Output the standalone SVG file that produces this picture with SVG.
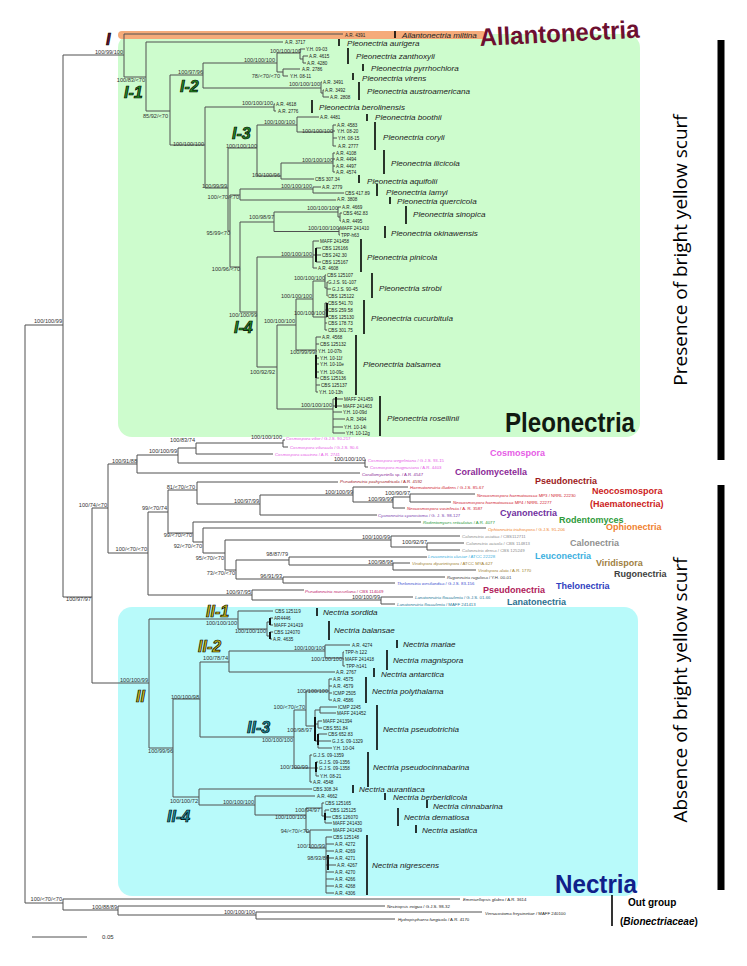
<svg xmlns="http://www.w3.org/2000/svg" width="747" height="966" viewBox="0 0 747 966">
<defs>
<style>
.t{stroke:#505050;stroke-width:1;fill:none}
.tk{stroke:#111;stroke-width:2;fill:none}
.bs{font-family:"Liberation Sans",Arial,sans-serif;font-size:5.6px;fill:#333;text-anchor:end}
.tx{font-family:"Liberation Sans",Arial,sans-serif;font-size:4.6px;fill:#222}
.sp{font-family:"Liberation Sans",Arial,sans-serif;font-size:8.1px;font-style:italic;fill:#222}
.bar{stroke:#000;stroke-width:1.6}
.ct{font-family:"Liberation Sans",Arial,sans-serif;font-size:4.3px}
.gl{font-family:"Liberation Sans",Arial,sans-serif;font-size:9px;font-weight:bold}
.cl{font-family:"Liberation Sans",Arial,sans-serif;font-size:16px;font-weight:bold;font-style:italic;stroke:#000;stroke-width:0.7}
.big{font-family:"Liberation Sans",Arial,sans-serif;font-weight:bold}
.vt{font-family:"Open Sans","Liberation Sans",sans-serif;font-size:19px;fill:#000;text-anchor:middle}
</style>
</defs>
<rect width="747" height="966" fill="#fff"/>
<g id="box-pleonectria"><rect x="118" y="34" width="522" height="403" rx="14" fill="#cdfccd"/></g>
<g id="box-nectria"><rect x="118" y="607" width="520" height="289" rx="14" fill="#b8fafa"/></g>
<g id="band-allantonectria"><rect x="118" y="31" width="368" height="8" rx="4" fill="#f5ab7a"/></g>

<g id="connectors">
<path class="t" d="M25 325V903M25 325H63M63 55V597M63 55H124M124 34V77M124 34H343M124 77H146M146 42V111M146 42H283M146 111H170M170 75V145M170 75H203M203 63V88M203 63H277M277 53V72M277 53H300M300 49V59M300 49H305M300 59H303M303 56V63M303 56H308M303 63H306M277 72H283M283 69V76M283 69H300M283 76H288M203 88H321M321 82V93M321 82H322M321 93H323M323 90V97M323 90H324M323 97H329"/>
<path class="t" d="M170 145H205M205 107V188M205 107H274M274 104V111M274 104H275M274 111H276M205 188H228M228 148V231M228 148H257M257 125V176M257 125H297M297 117V132M297 117H319M297 132H333M333 125V146M333 125H336M333 131H335M333 138H337M333 146H336M257 176H281M281 163V179M281 163H333M333 153V172M333 153H335M333 159H335M333 166H335M333 172H335M281 179H314"/>
<path class="t" d="M228 231H230M230 195V267M230 195H240M240 189V200M240 189H313M313 187V193M313 187H321M313 193H344M240 200H336M230 267H240M240 222V312M240 222H274M274 212V231.5M274 212H338M338 207V217M338 207H341M338 217H340M340 213V221M340 213H342M340 221H341M274 231.5H339M339 228V235M339 228H340M339 235H340"/>
<path class="t" d="M240 312H257M257 257V367M257 257H313M313 241V268M313 241H319M313 255H316M316 248V262M316 248H321M316 255H321M316 262H321M313 268H317M257 367H277M277 325V409M277 325H296M296 299V350M296 299H313M313 281V317M313 281H325M325 275V288M325 275H326M325 288H327M327 282V296M327 282H328M327 289H331M327 296H327.5M313 317H325M325 303V330M325 303H327M325 310H327M325 317H327M325 323H327M325 330H327"/>
<path class="t" d="M296 350H316M316 337V392M316 337H321M316 344H319M316 351H317M316 358H319M316 364H319M316 372H319M316 378H319M316 385H320M316 392H318M277 409H333M333 399V433M333 399H343M333 406H342M333 412H342M333 419H345M333 427H343M333 433H345"/>
<path class="tk" d="M336 397V408M316 248V262M327 303V317M316 355V378"/>
<path class="t" d="M63 597H92M92 508V683M92 508H108M108 464V553M108 464H137M137 455V473M137 455H178M178 448V463M178 448H196M196 443V454M196 443H283M283 440V447M283 440H285M283 447H288M196 454H273M178 463H365M365 460V467M365 460H366M365 467H368M137 473H360"/>
<path class="t" d="M108 553H148M148 512V595M148 512H168M168 490V533M168 490H197M197 482V504M197 482H338M197 504H260M260 495V515M260 495H353M353 487V502M353 487H408M353 502H393M393 497V508M393 497H410M410 494V502M410 494H475M410 502H451M393 508H405M260 515H377"/>
<path class="t" d="M168 533H193M193 522V542M193 522H421M193 542H203M203 528V553M203 528H486M203 553H225M225 540V570M225 540H391M391 536V547M391 536H460M391 547H427M427 543V550M427 543H464M427 550H460M225 570H236M236 560V579M236 560H289M289 557V565M289 557H427M289 565H393M393 563V570M393 563H410M393 570H476M236 579H283M283 577V583M283 577H445M283 583H395"/>
<path class="t" d="M148 595H252M252 590V600M252 590H304M252 600H381M381 597V604M381 597H413M381 604H395"/>
<path class="t" d="M92 683H149M149 619V748M149 619H238M238 611V629M238 611H273M238 629H267M267 622V636M267 622H270M270 618V625M270 618H273M270 625H273M267 636H270M270 632V639M270 632H273M270 639H272"/>
<path class="tk" d="M270 618V625M270 632V639"/>
<path class="t" d="M149 748H173M173 699V797M173 699H200M200 662V737M200 662H229M229 651V672M229 651H325M325 645V658M325 645H350M325 658H343M343 652V666M343 652H344M343 659H344M343 666H345M229 672H335"/>
<path class="t" d="M200 737H294M294 710V768M294 710H306M306 691V726M306 691H329M329 679V700M329 679H332M329 686H332M329 693H332M329 700H332M306 726H315M315 710V741M315 710H320M320 707V713M320 707H337M320 713H336M315 724H318M318 721V728M318 721H322M318 728H322M315 741H318M318 734V748M318 734H327M318 741H331M318 748H332"/>
<path class="tk" d="M315 717V741M318 734V745"/>
<path class="t" d="M294 768H310M310 755V782M310 755H312M310 768H316M316 762V776M316 762H318M316 768H318M316 776H319M310 782H312"/>
<path class="tk" d="M316 762V772"/>
<path class="t" d="M173 797H199M199 789V805M199 789H312M199 805H255M255 796V815M255 796H315M255 815H306M306 808V832M306 808H322M322 803V816M322 803H324M322 816H325M325 810V823M325 810H329M325 817H331M325 823H332M306 832H310M310 830V848M310 830H332M310 848H326M326 837V893M326 837H332M326 844H334M326 851H334M326 858H334M326 865H336M326 872H334M326 879H334M326 886H334M326 893H334"/>
<path class="tk" d="M325 813V820M328 855V870"/>
<path class="t" d="M25 903H63M63 899V910M63 899H460M63 910H118M118 906V915M118 906H385M118 915H256M256 912V919M256 912H482M256 919H395"/>
</g>

<g id="support-values">
<text class="bs" x="123" y="54">100/99/100</text>
<text class="bs" x="145" y="82">100/83/&lt;70</text>
<text class="bs" x="168" y="118">85/92/&lt;70</text>
<text class="bs" x="203" y="74">100/97/96</text>
<text class="bs" x="301" y="53">100/100/100</text>
<text class="bs" x="275" y="62">100/100/100</text>
<text class="bs" x="280" y="78">78/&lt;70/&lt;70</text>
<text class="bs" x="320" y="86">100/100/100</text>
<text class="bs" x="204" y="146">100/100/100</text>
<text class="bs" x="273" y="105">100/100/100</text>
<text class="bs" x="295" y="124">100/100/100</text>
<text class="bs" x="333" y="133">100/100/100</text>
<text class="bs" x="257" y="148">100/100/100</text>
<text class="bs" x="333" y="162">100/100/100</text>
<text class="bs" x="280" y="177">100/100/96</text>
<text class="bs" x="312" y="188">100/100/100</text>
<text class="bs" x="227" y="188">100/99/99</text>
<text class="bs" x="239" y="199">100/&lt;70/&lt;70</text>
<text class="bs" x="338" y="210">100/100/100</text>
<text class="bs" x="274" y="219">100/98/97</text>
<text class="bs" x="339" y="230">100/100/100</text>
<text class="bs" x="230" y="235">95/99&lt;70</text>
<text class="bs" x="312" y="256">100/100/100</text>
<text class="bs" x="240" y="271">100/96/&lt;70</text>
<text class="bs" x="325" y="280">100/100/100</text>
<text class="bs" x="312" y="298">100/100/100</text>
<text class="bs" x="257" y="317">100/100/99</text>
<text class="bs" x="325" y="315">100/100/100</text>
<text class="bs" x="295" y="323">100/100/100</text>
<text class="bs" x="315" y="354">100/99/99</text>
<text class="bs" x="275" y="374">100/92/92</text>
<text class="bs" x="332" y="407">100/100/100</text>
<text class="bs" x="62" y="323">100/100/99</text>
<text class="bs" x="91" y="601">100/97/97</text>
<text class="bs" x="107" y="507">100/74/&lt;70</text>
<text class="bs" x="137" y="463">100/91/88</text>
<text class="bs" x="177" y="453">100/100/99</text>
<text class="bs" x="195" y="442">100/83/74</text>
<text class="bs" x="282" y="439">100/100/100</text>
<text class="bs" x="365" y="461">100/100/100</text>
<text class="bs" x="195" y="489">81/&lt;70/&lt;70</text>
<text class="bs" x="167" y="510">99/&lt;70/74</text>
<text class="bs" x="259" y="503">100/97/99</text>
<text class="bs" x="353" y="494">100/100/99</text>
<text class="bs" x="410" y="495">100/90/97</text>
<text class="bs" x="393" y="501">100/99/99</text>
<text class="bs" x="192" y="537">99/&lt;70/&lt;70</text>
<text class="bs" x="202" y="548">92/&lt;70/&lt;70</text>
<text class="bs" x="147" y="551">100/&lt;70/&lt;70</text>
<text class="bs" x="390" y="539">100/100/99</text>
<text class="bs" x="427" y="544">100/92/97</text>
<text class="bs" x="224" y="560">95/&lt;70/&lt;70</text>
<text class="bs" x="288" y="556">98/87/79</text>
<text class="bs" x="393" y="564">100/98/98</text>
<text class="bs" x="235" y="575">73/&lt;70/&lt;70</text>
<text class="bs" x="282" y="578">96/91/93</text>
<text class="bs" x="251" y="594">100/97/95</text>
<text class="bs" x="380" y="599">100/100/99</text>
<text class="bs" x="148" y="682">100/100/99</text>
<text class="bs" x="237" y="625">100/100/100</text>
<text class="bs" x="266" y="633">100/100/100</text>
<text class="bs" x="173" y="753">100/99/96</text>
<text class="bs" x="199" y="699">100/100/98</text>
<text class="bs" x="228" y="660">100/78/74</text>
<text class="bs" x="325" y="650">100/100/100</text>
<text class="bs" x="342" y="661">100/100/100</text>
<text class="bs" x="293" y="742">100/100/100</text>
<text class="bs" x="305" y="709">100/&lt;70/&lt;70</text>
<text class="bs" x="328" y="693">100/100/100</text>
<text class="bs" x="312" y="732">100/98/97</text>
<text class="bs" x="308" y="769">100/100/99</text>
<text class="bs" x="198" y="803">100/100/72</text>
<text class="bs" x="254" y="804">100/100/100</text>
<text class="bs" x="306" y="819">100/100/100</text>
<text class="bs" x="320" y="812">100/94/97</text>
<text class="bs" x="309" y="833">94/&lt;70/&lt;70</text>
<text class="bs" x="325" y="848">100/100/99</text>
<text class="bs" x="329" y="860">98/93/89</text>
<text class="bs" x="62" y="901">100/&lt;70/&lt;70</text>
<text class="bs" x="117" y="909">100/88/89</text>
<text class="bs" x="255" y="914">100/100/100</text>
</g>

<g id="clade-labels">
<text class="cl" x="106" y="45" fill="#6b0f2b">I</text>
<text class="cl" x="124" y="98" fill="#238b23">I-1</text>
<text class="cl" x="180" y="92" fill="#238b23">I-2</text>
<text class="cl" x="232" y="139" fill="#238b23">I-3</text>
<text class="cl" x="234" y="333" fill="#238b23">I-4</text>
<text class="cl" x="136" y="702" fill="#c8b818">II</text>
<text class="cl" x="206" y="617" fill="#c8b818">II-1</text>
<text class="cl" x="198" y="652" fill="#c8b818">II-2</text>
<text class="cl" x="247" y="733" fill="#1b8fa0">II-3</text>
<text class="cl" x="167" y="822" fill="#1b8fa0">II-4</text>
</g>

<g id="allantonectria-miltina">
<text class="tx" x="345" y="36.6">A.R. 4391</text>
<line class="bar" x1="395" y1="31" x2="395" y2="38"/>
<text class="sp" x="402" y="38">Allantonectria miltina</text>
</g>
<g id="pleonectria-aurigera"><text class="tx" x="285" y="43.6">A.R. 3717</text><line class="bar" x1="339" y1="39" x2="339" y2="46"/><text class="sp" x="347" y="46">Pleonectria aurigera</text></g>
<g id="pleonectria-zanthoxyli"><text class="tx" x="306" y="50.6">Y.H. 09-03</text><text class="tx" x="309" y="57.6">A.R. 4615</text><text class="tx" x="307" y="64.6">A.R. 4280</text><line class="bar" x1="348" y1="48" x2="348" y2="64"/><text class="sp" x="356" y="59">Pleonectria zanthoxyli</text></g>
<g id="pleonectria-pyrrhochlora"><text class="tx" x="302" y="71">A.R. 2786</text><line class="bar" x1="363" y1="64" x2="363" y2="71"/><text class="sp" x="371" y="71">Pleonectria pyrrhochlora</text></g>
<g id="pleonectria-virens"><text class="tx" x="290" y="77.6">Y.H. 08-11</text><line class="bar" x1="353" y1="73" x2="353" y2="80"/><text class="sp" x="362" y="81">Pleonectria virens</text></g>
<g id="pleonectria-austroamericana"><text class="tx" x="323" y="83.6">A.R. 3491</text><text class="tx" x="325" y="91.6">A.R. 3492</text><text class="tx" x="330" y="98.6">A.R. 2808</text><line class="bar" x1="359" y1="82" x2="359" y2="100"/><text class="sp" x="367" y="94">Pleonectria austroamericana</text></g>
<g id="pleonectria-berolinensis"><text class="tx" x="276" y="105.6">A.R. 4618</text><text class="tx" x="278" y="112.6">A.R. 2776</text><line class="bar" x1="312" y1="100" x2="312" y2="113"/><text class="sp" x="319" y="110">Pleonectria berolinensis</text></g>
<g id="pleonectria-boothii"><text class="tx" x="320" y="118.6">A.R. 4481</text><line class="bar" x1="367" y1="114" x2="367" y2="121"/><text class="sp" x="375" y="120">Pleonectria boothii</text></g>
<g id="pleonectria-coryli"><text class="tx" x="337" y="126.6">A.R. 4583</text><text class="tx" x="337" y="132.6">Y.H. 08-20</text><text class="tx" x="338" y="139.6">Y.H. 08-15</text><text class="tx" x="338" y="147.6">A.R. 2777</text><line class="bar" x1="375" y1="122" x2="375" y2="150"/><text class="sp" x="383" y="140">Pleonectria coryli</text></g>
<g id="pleonectria-ilicicola"><text class="tx" x="336" y="154.6">A.R. 4108</text><text class="tx" x="336" y="160.6">A.R. 4494</text><text class="tx" x="336" y="167.6">A.R. 4497</text><text class="tx" x="336" y="173.6">A.R. 4574</text><line class="bar" x1="384" y1="150" x2="384" y2="174"/><text class="sp" x="391" y="166">Pleonectria ilicicola</text></g>
<g id="pleonectria-aquifolii"><text class="tx" x="315" y="180.6">CBS 307.34</text><line class="bar" x1="359" y1="175" x2="359" y2="183"/><text class="sp" x="367" y="184">Pleonectria aquifolii</text></g>
<g id="pleonectria-lamyi"><text class="tx" x="322" y="188.6">A.R. 2779</text><text class="tx" x="345" y="194.6">CBS 417.89</text><line class="bar" x1="377" y1="184" x2="377" y2="196"/><text class="sp" x="386" y="195">Pleonectria lamyi</text></g>
<g id="pleonectria-quercicola"><text class="tx" x="337" y="200.6">A.R. 3808</text><line class="bar" x1="390" y1="197" x2="390" y2="204"/><text class="sp" x="397" y="204">Pleonectria quercicola</text></g>
<g id="pleonectria-sinopica"><text class="tx" x="342" y="208.6">A.R. 4669</text><text class="tx" x="343" y="214.6">CBS 462.83</text><text class="tx" x="342" y="222.6">A.R. 4495</text><line class="bar" x1="406" y1="206" x2="406" y2="224"/><text class="sp" x="413" y="217">Pleonectria sinopica</text></g>
<g id="pleonectria-okinawensis"><text class="tx" x="340" y="229.6">MAFF 241410</text><text class="tx" x="341" y="236.6">TPP-h63</text><line class="bar" x1="385" y1="226" x2="385" y2="238"/><text class="sp" x="391" y="236">Pleonectria okinawensis</text></g>
<g id="pleonectria-pinicola"><text class="tx" x="320" y="242.6">MAFF 241458</text><text class="tx" x="322" y="249.6">CBS 126166</text><text class="tx" x="322" y="256.6">CBS 242.30</text><text class="tx" x="322" y="263.6">CBS 125167</text><text class="tx" x="318" y="269.6">A.R. 4608</text><line class="bar" x1="361" y1="239" x2="361" y2="272"/><text class="sp" x="367" y="260">Pleonectria pinicola</text></g>
<g id="pleonectria-strobi"><text class="tx" x="327" y="276.6">CBS 125107</text><text class="tx" x="328" y="283.6">G.J.S. 91-107</text><text class="tx" x="332" y="290.6">G.J.S. 90-45</text><text class="tx" x="328" y="297.6">CBS 125122</text><line class="bar" x1="372" y1="273" x2="372" y2="298"/><text class="sp" x="379" y="291">Pleonectria strobi</text></g>
<g id="pleonectria-cucurbitula"><text class="tx" x="328" y="304.6">CBS 541.70</text><text class="tx" x="328" y="311.6">CBS 259.58</text><text class="tx" x="328" y="318.6">CBS 125130</text><text class="tx" x="328" y="324.6">CBS 178.73</text><text class="tx" x="328" y="331.6">CBS 301.75</text><line class="bar" x1="364" y1="300" x2="364" y2="334"/><text class="sp" x="371" y="321">Pleonectria cucurbitula</text></g>
<g id="pleonectria-balsamea"><text class="tx" x="322" y="338.6">A.R. 4568</text><text class="tx" x="320" y="345.6">CBS 125132</text><text class="tx" x="318" y="352.6">Y.H. 10-07b</text><text class="tx" x="320" y="359.6">Y.H. 10-11f</text><text class="tx" x="320" y="365.6">Y.H. 10-10e</text><text class="tx" x="320" y="373.6">Y.H. 10-09c</text><text class="tx" x="320" y="379.6">CBS 125136</text><text class="tx" x="321" y="386.6">CBS 125137</text><text class="tx" x="319" y="393.6">Y.H. 10-13h</text><line class="bar" x1="356" y1="335" x2="356" y2="395"/><text class="sp" x="363" y="367">Pleonectria balsamea</text></g>
<g id="pleonectria-rosellinii"><text class="tx" x="344" y="400.6">MAFF 241459</text><text class="tx" x="343" y="407.6">MAFF 241403</text><text class="tx" x="343" y="413.6">Y.H. 10-09d</text><text class="tx" x="346" y="420.6">A.R. 3494</text><text class="tx" x="344" y="428.6">Y.H. 10-14i</text><text class="tx" x="346" y="434.6">Y.H. 10-12g</text><line class="bar" x1="380" y1="396" x2="380" y2="436"/><text class="sp" x="387" y="421">Pleonectria rosellinii</text></g>

<g id="other-genera">
<text class="ct" x="286" y="439.5" fill="#e65ce6"><tspan font-style="italic">Cosmospora vilior</tspan> / G.J.S. 90-217</text>
<text class="ct" x="290" y="448.5" fill="#e65ce6"><tspan font-style="italic">Cosmospora viliuscula</tspan> / G.J.S. 90-6</text>
<text class="ct" x="275" y="455.5" fill="#e65ce6"><tspan font-style="italic">Cosmospora coccinea</tspan> / A.R. 2741</text>
<text class="ct" x="368" y="461.5" fill="#e65ce6"><tspan font-style="italic">Cosmospora wegeliniana</tspan> / G.J.S. 93-15</text>
<text class="ct" x="370" y="468.5" fill="#e65ce6"><tspan font-style="italic">Cosmospora magnusiana</tspan> / A.R. 4403</text>
<text class="ct" x="362" y="475.5" fill="#8b2a98"><tspan font-style="italic">Corallomycetella</tspan> sp. / A.R. 4547</text>
<text class="ct" x="340" y="482.5" fill="#a0202a"><tspan font-style="italic">Pseudonectria pachysandricola</tspan> / A.R. 4592</text>
<text class="ct" x="410" y="488.5" fill="#d02030"><tspan font-style="italic">Haematonectria illudens</tspan> / G.J.S. 85-67</text>
<text class="ct" x="477" y="496.5" fill="#d02030"><tspan font-style="italic">Neocosmospora haematococca</tspan> MP3 / NRRL 22230</text>
<text class="ct" x="453" y="503.5" fill="#d02030"><tspan font-style="italic">Neocosmospora haematococca</tspan> MP4 / NRRL 22277</text>
<text class="ct" x="407" y="509.5" fill="#d02030"><tspan font-style="italic">Neocosmospora vasinfecta</tspan> / A. R. 3587</text>
<text class="ct" x="378" y="516.5" fill="#7b3fb0"><tspan font-style="italic">Cyanonectria cyanostoma</tspan> / G. J. S. 98-127</text>
<text class="ct" x="423" y="523.5" fill="#2a9a3a"><tspan font-style="italic">Rodentomyces reticulatus</tspan> / A.R. 4077</text>
<text class="ct" x="488" y="530.5" fill="#f07f2a"><tspan font-style="italic">Ophionectria trichospora</tspan> / G.J.S. 91-206</text>
<text class="ct" x="462" y="537.5" fill="#8c8c8c"><tspan font-style="italic">Calonectria asiatica</tspan> / CBS112711</text>
<text class="ct" x="466" y="544.5" fill="#8c8c8c"><tspan font-style="italic">Calonectria acicola</tspan> / CBS 114813</text>
<text class="ct" x="462" y="551.5" fill="#8c8c8c"><tspan font-style="italic">Calonectria densa</tspan> / CBS 125249</text>
<text class="ct" x="428" y="557.5" fill="#3cb0e0"><tspan font-style="italic">Leuconectria clusiae</tspan> / ATCC 22228</text>
<text class="ct" x="412" y="564.5" fill="#a08030"><tspan font-style="italic">Viridispora diparietispora</tspan> / ATCC MYA-627</text>
<text class="ct" x="478" y="571.5" fill="#a08030"><tspan font-style="italic">Viridispora alata</tspan> / A.R. 1770</text>
<text class="ct" x="447" y="578.5" fill="#404040"><tspan font-style="italic">Rugonectria rugulosa</tspan> / Y.H. 00-01</text>
<text class="ct" x="397" y="584.5" fill="#3d4fd0"><tspan font-style="italic">Thelonectria westlandica</tspan> / G.J.S. 83-156</text>
<text class="ct" x="305" y="592.5" fill="#c0206a"><tspan font-style="italic">Pseudonectria rousseliana</tspan> / CBS 114049</text>
<text class="ct" x="415" y="598.5" fill="#2a7a9a"><tspan font-style="italic">Lanatonectria flocculenta</tspan> / G.J.S. 01-66</text>
<text class="ct" x="397" y="605.5" fill="#2a7a9a"><tspan font-style="italic">Lanatonectria flocculenta</tspan> / MAFF 241413</text>
</g>

<g id="genus-labels">
<text class="gl" x="490" y="456" fill="#e65ce6">Cosmospora</text>
<text class="gl" x="455" y="475" fill="#8b2a98">Corallomycetella</text>
<text class="gl" x="535" y="484" fill="#9c1a1a">Pseudonectria</text>
<text class="gl" x="592" y="494" fill="#cc2222">Neocosmospora</text>
<text class="gl" x="590" y="507" fill="#cc2222">(Haematonectria)</text>
<text class="gl" x="500" y="516" fill="#7030a0">Cyanonectria</text>
<text class="gl" x="559" y="523" fill="#2e9a3a">Rodentomyces</text>
<text class="gl" x="606" y="530" fill="#f08030">Ophionectria</text>
<text class="gl" x="570" y="546" fill="#909090">Calonectria</text>
<text class="gl" x="535" y="559" fill="#3cb0e0">Leuconectria</text>
<text class="gl" x="596" y="566" fill="#a08040">Viridispora</text>
<text class="gl" x="614" y="577" fill="#404040">Rugonectria</text>
<text class="gl" x="556" y="589" fill="#3040c0">Thelonectria</text>
<text class="gl" x="483" y="593" fill="#b0205a">Pseudonectria</text>
<text class="gl" x="507" y="605" fill="#2a7090">Lanatonectria</text>
</g>

<g id="nectria-sordida"><text class="tx" x="275" y="612.6">CBS 125119</text><line class="bar" x1="317" y1="608" x2="317" y2="616"/><text class="sp" x="323" y="615">Nectria sordida</text></g>
<g id="nectria-balansae"><text class="tx" x="274" y="619.6">AR4446</text><text class="tx" x="274" y="626.6">MAFF 241419</text><text class="tx" x="274" y="633.6">CBS 124070</text><text class="tx" x="273" y="640.6">A.R. 4635</text><line class="bar" x1="329" y1="621" x2="329" y2="640"/><text class="sp" x="334" y="633">Nectria balansae</text></g>
<g id="nectria-mariae"><text class="tx" x="352" y="646.6">A.R. 4274</text><line class="bar" x1="397" y1="640" x2="397" y2="648"/><text class="sp" x="403" y="647">Nectria mariae</text></g>
<g id="nectria-magnispora"><text class="tx" x="345" y="653.6">TPP-h 122</text><text class="tx" x="345" y="660.6">MAFF 241418</text><text class="tx" x="346" y="667.6">TPP-h141</text><line class="bar" x1="387" y1="650" x2="387" y2="670"/><text class="sp" x="393" y="663">Nectria magnispora</text></g>
<g id="nectria-antarctica"><text class="tx" x="336" y="673.6">A.R. 2767</text><line class="bar" x1="374" y1="668" x2="374" y2="677"/><text class="sp" x="381" y="677">Nectria antarctica</text></g>
<g id="nectria-polythalama"><text class="tx" x="333" y="680.6">A.R. 4575</text><text class="tx" x="333" y="687.6">A.R. 4579</text><text class="tx" x="333" y="694.6">ICMP 2505</text><text class="tx" x="333" y="701.6">A.R. 4586</text><line class="bar" x1="366" y1="677" x2="366" y2="703"/><text class="sp" x="372" y="694">Nectria polythalama</text></g>
<g id="nectria-pseudotrichia"><text class="tx" x="338" y="708.6">ICMP 2245</text><text class="tx" x="337" y="714.6">MAFF 241452</text><text class="tx" x="323" y="722.6">MAFF 241394</text><text class="tx" x="323" y="729.6">CBS 551.84</text><text class="tx" x="328" y="735.6">CBS 652.83</text><text class="tx" x="332" y="742.6">G.J.S. 09-1329</text><text class="tx" x="333" y="749.6">Y.H. 10-04</text><line class="bar" x1="377" y1="705" x2="377" y2="750"/><text class="sp" x="383" y="732">Nectria pseudotrichia</text></g>
<g id="nectria-pseudocinnabarina"><text class="tx" x="313" y="756.6">G.J.S. 09-1359</text><text class="tx" x="319" y="763.6">G.J.S. 09-1356</text><text class="tx" x="319" y="769.6">G.J.S. 09-1358</text><text class="tx" x="320" y="777.6">Y.H. 08-21</text><text class="tx" x="313" y="783.6">A.R. 4548</text><line class="bar" x1="368" y1="752" x2="368" y2="787"/><text class="sp" x="373" y="770">Nectria pseudocinnabarina</text></g>
<g id="nectria-aurantiaca"><text class="tx" x="313" y="790.6">CBS 308.34</text><line class="bar" x1="353" y1="785" x2="353" y2="793"/><text class="sp" x="359" y="792">Nectria aurantiaca</text></g>
<g id="nectria-berberidicola"><text class="tx" x="317" y="797.6">A.R. 4662</text><line class="bar" x1="385" y1="793" x2="385" y2="800"/><text class="sp" x="393" y="800">Nectria berberidicola</text></g>
<g id="nectria-cinnabarina"><text class="tx" x="325" y="804.6">CBS 125165</text><line class="bar" x1="427" y1="800" x2="427" y2="808"/><text class="sp" x="433" y="809">Nectria cinnabarina</text></g>
<g id="nectria-dematiosa"><text class="tx" x="330" y="811.6">CBS 125125</text><text class="tx" x="332" y="818.6">CBS 126070</text><text class="tx" x="333" y="824.6">MAFF 241430</text><line class="bar" x1="398" y1="808" x2="398" y2="826"/><text class="sp" x="404" y="820">Nectria dematiosa</text></g>
<g id="nectria-asiatica"><text class="tx" x="333" y="831.6">MAFF 241439</text><line class="bar" x1="416" y1="825" x2="416" y2="833"/><text class="sp" x="422" y="833">Nectria asiatica</text></g>
<g id="nectria-nigrescens"><text class="tx" x="333" y="838.6">CBS 125148</text><text class="tx" x="335" y="845.6">A.R. 4272</text><text class="tx" x="335" y="852.6">A.R. 4269</text><text class="tx" x="335" y="859.6">A.R. 4271</text><text class="tx" x="337" y="866.6">A.R. 4267</text><text class="tx" x="335" y="873.6">A.R. 4270</text><text class="tx" x="335" y="880.6">A.R. 4266</text><text class="tx" x="335" y="887.6">A.R. 4268</text><text class="tx" x="335" y="894.6">A.R. 4306</text><line class="bar" x1="367" y1="835" x2="367" y2="895"/><text class="sp" x="372" y="868">Nectria nigrescens</text></g>

<g id="outgroup">
<text class="ct" x="463" y="900.5" fill="#222"><tspan font-style="italic">Emericellopsis glabra</tspan> / A.R. 3614</text>
<text class="ct" x="387" y="907.5" fill="#222"><tspan font-style="italic">Nectriopsis exigua</tspan> / G.J.S. 98-32</text>
<text class="ct" x="485" y="914.5" fill="#222"><tspan font-style="italic">Verrucostoma freycinetiae</tspan> / MAFF 240100</text>
<text class="ct" x="398" y="920.5" fill="#222"><tspan font-style="italic">Hydropisphaera fungicola</tspan> / A.R. 4170</text>
<line class="bar" x1="612" y1="895" x2="612" y2="926" stroke-width="2.5"/>
<text class="big" x="628" y="906" font-size="10" fill="#000">Out group</text>
<text class="big" x="620" y="925" font-size="10" fill="#000">(<tspan font-style="italic">Bionectriaceae</tspan>)</text>
</g>

<g id="big-labels">
<text class="big" x="480" y="46" font-size="25" fill="#6d0f30" transform="rotate(-3 480 46)" textLength="160" lengthAdjust="spacingAndGlyphs">Allantonectria</text>
<text class="big" x="505" y="432" font-size="28" fill="#111a11" textLength="130" lengthAdjust="spacingAndGlyphs">Pleonectria</text>
<text class="big" x="555" y="893" font-size="26" fill="#10208a" textLength="82" lengthAdjust="spacingAndGlyphs">Nectria</text>
</g>

<g id="scurf">
<line x1="721" y1="40" x2="721" y2="460" stroke="#000" stroke-width="7"/>
<text class="vt" transform="translate(687 250) rotate(-90)">Presence of bright yellow scurf</text>
<line x1="721" y1="485" x2="721" y2="890" stroke="#000" stroke-width="7"/>
<text class="vt" transform="translate(687 690) rotate(-90)">Absence of bright yellow scurf</text>
</g>

<g id="scale-bar">
<line x1="32" y1="937" x2="87" y2="937" stroke="#505050" stroke-width="1"/>
<text x="102" y="939" font-family="Liberation Sans,Arial,sans-serif" font-size="6" fill="#333">0.05</text>
</g>
</svg>
